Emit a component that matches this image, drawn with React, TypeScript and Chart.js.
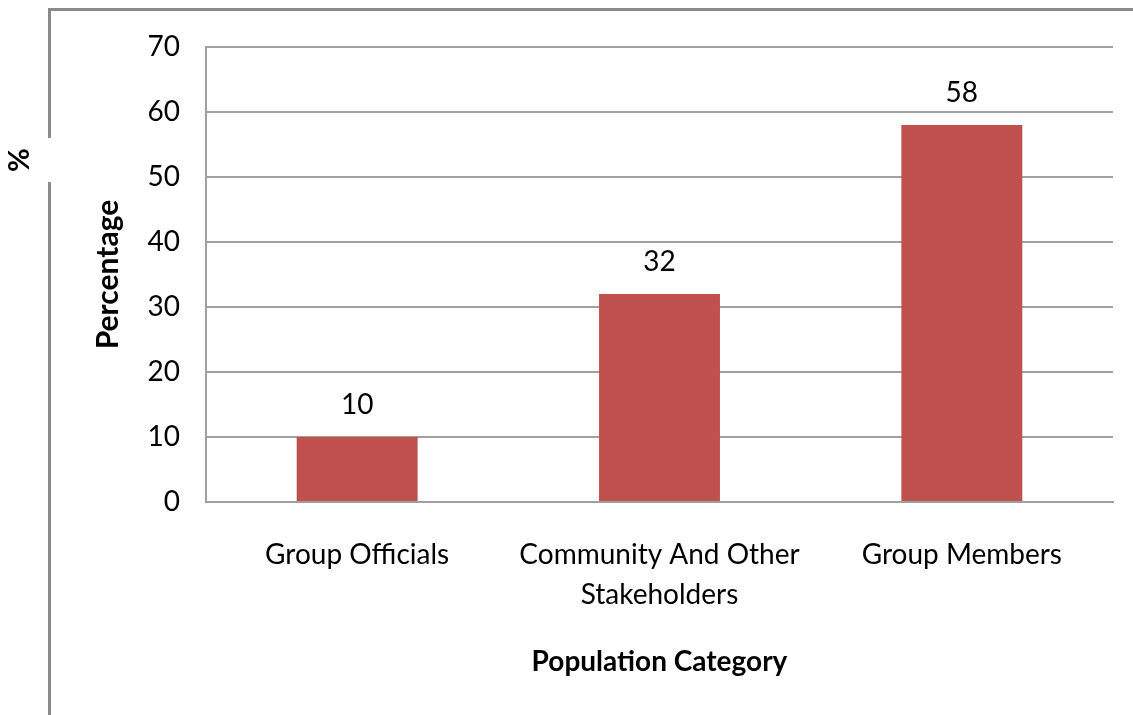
import React, { useEffect, useRef } from "react";
import { Chart, registerables } from "chart.js";

Chart.register(...registerables);

const categories: (string | string[])[] = [
  "Group Officials",
  ["Community And Other", "Stakeholders"],
  "Group Members",
];
const percentages: number[] = [10, 32, 58];
const yTicks: number[] = [0, 10, 20, 30, 40, 50, 60, 70];

const FONT = "Lato, 'Open Sans', sans-serif";

const framePlugin = {
  id: "frame",
  beforeDraw(chart: any) {
    const ctx = chart.ctx;
    ctx.save();
    ctx.strokeStyle = "#8a8a8a";
    ctx.lineWidth = 3;
    ctx.beginPath();
    ctx.moveTo(49.5, 715);
    ctx.lineTo(49.5, 182);
    ctx.moveTo(49.5, 138);
    ctx.lineTo(49.5, 9.5);
    ctx.lineTo(1133, 9.5);
    ctx.stroke();
    ctx.fillStyle = "#000";
    ctx.font = `bold 29px ${FONT}`;
    ctx.textAlign = "center";
    ctx.textBaseline = "middle";
    ctx.translate(20, 160);
    ctx.rotate(-Math.PI / 2);
    ctx.fillText("%", 0, 0);
    ctx.restore();
  },
};

const valueLabelPlugin = {
  id: "valueLabels",
  afterDatasetsDraw(chart: any) {
    const ctx = chart.ctx;
    const meta = chart.getDatasetMeta(0);
    ctx.save();
    ctx.fillStyle = "#000";
    ctx.font = `28px ${FONT}`;
    ctx.textAlign = "center";
    ctx.textBaseline = "middle";
    meta.data.forEach((bar: any, i: number) => {
      ctx.fillText(String(chart.data.datasets[0].data[i]), bar.x, bar.y - 32);
    });
    ctx.restore();
  },
};

export default function App() {
  const ref = useRef<HTMLCanvasElement | null>(null);
  useEffect(() => {
    if (!ref.current) return;
    const chart = new Chart(ref.current, {
      type: "bar",
      data: {
        labels: categories,
        datasets: [
          {
            data: percentages,
            backgroundColor: "#C0504D",
            borderWidth: 0,
            categoryPercentage: 1,
            barPercentage: 0.4,
          },
        ],
      },
      options: {
        responsive: false,
        animation: false,
        layout: { padding: { left: 0, top: 47, right: 20, bottom: 0 } },
        plugins: {
          legend: { display: false },
          tooltip: { enabled: false },
        },
        scales: {
          x: {
            grid: { display: false, drawTicks: false },
            border: { display: true, color: "#a0a0a0", width: 2 },
            ticks: {
              color: "#000",
              font: { family: FONT, size: 28, lineHeight: "40px" },
              padding: 33,
              maxRotation: 0,
              autoSkip: false,
            },
            title: {
              display: true,
              text: "Population Category",
              color: "#000",
              font: { family: FONT, size: 28, weight: "bold" },
              padding: { top: 0, bottom: 36 },
            },
            afterFit(scale: any) {
              scale.height = 213;
            },
          },
          y: {
            min: 0,
            max: 70,
            afterBuildTicks(scale: any) {
              scale.ticks = yTicks.map((v) => ({ value: v }));
            },
            grid: { color: "#a0a0a0", lineWidth: 2, drawTicks: false },
            border: { display: true, color: "#a0a0a0", width: 2 },
            ticks: {
              color: "#000",
              font: { family: FONT, size: 28 },
              padding: 26,
            },
            title: {
              display: true,
              text: "Percentage",
              color: "#000",
              font: { family: FONT, size: 30, weight: "bold" },
              padding: { top: 90, bottom: 0 },
            },
            afterFit(scale: any) {
              scale.width = 206;
            },
          },
        },
      },
      plugins: [framePlugin, valueLabelPlugin],
    });
    return () => chart.destroy();
  }, []);
  return (
    <div style={{ position: "fixed", left: 0, top: 0, width: 1133, height: 715, background: "#fff" }}>
      <canvas ref={ref} width={1133} height={715} style={{ display: "block" }} />
    </div>
  );
}
